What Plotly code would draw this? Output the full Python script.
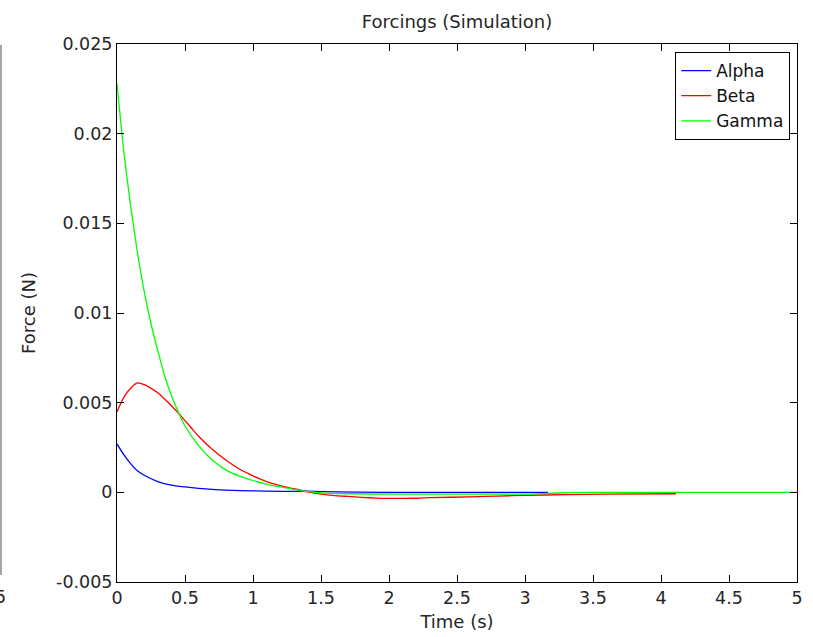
import plotly.graph_objects as go

# ---- data ----
t_alpha = [0, 0.05, 0.1, 0.15, 0.2, 0.3, 0.4, 0.5, 0.6, 0.7, 0.8, 1.0, 1.2, 1.4, 1.5, 2.0, 2.5, 3.17]
alpha = [0.0027, 0.0021, 0.0016, 0.0012, 0.00095, 0.0006, 0.0004, 0.0003, 0.00022, 0.00016,
         0.00012, 0.00008, 0.00005, 0.00006, 0.00004, 0.0, 0.0, 0.0]

t_beta = [0, 0.05, 0.1, 0.15, 0.2, 0.25, 0.3, 0.35, 0.4, 0.45, 0.5, 0.55, 0.6, 0.7, 0.8, 0.9, 1.0,
          1.1, 1.2, 1.3, 1.4, 1.5, 1.6, 1.7, 1.8, 1.9, 2.0, 2.2, 2.3, 2.6, 2.8, 3.0, 3.3, 3.6, 4.11]
beta = [0.0045, 0.0053, 0.0058, 0.0061, 0.0060, 0.0058, 0.00555, 0.0052, 0.00483, 0.00443, 0.0040,
        0.00356, 0.00313, 0.0024, 0.0018, 0.0013, 0.00092, 0.0006, 0.00038, 0.0002, 0.00003,
        -0.0001, -0.00018, -0.00023, -0.00028, -0.00032, -0.00034, -0.00033, -0.0003, -0.00025,
        -0.00021, -0.00017, -0.00013, -0.0001, -0.00008]

t_gamma = [0, 0.05, 0.1, 0.15, 0.2, 0.25, 0.3, 0.35, 0.4, 0.45, 0.5, 0.6, 0.7, 0.8, 0.9, 1.0, 1.1,
           1.2, 1.3, 1.4, 1.5, 1.7, 2.0, 2.5, 3.0, 3.2, 3.5, 4.0, 5.0]
gamma = [0.0228, 0.0190, 0.0160, 0.0134, 0.0112, 0.0094, 0.0079, 0.0065, 0.0054, 0.0045, 0.0037,
         0.0026, 0.0018, 0.00125, 0.0009, 0.00066, 0.00046, 0.0003, 0.00017, 0.00005, -0.00003,
         -0.00008, -0.0001, -0.0001, -0.0001, -0.00005, 0.0, 0.0, 0.0]

series_names = ["Alpha", "Beta", "Gamma"]
series_colors = ["#0000ff", "#ff0000", "#00ff00"]

x_ticks = [0, 0.5, 1, 1.5, 2, 2.5, 3, 3.5, 4, 4.5, 5]
x_tick_labels = ["0", "0.5", "1", "1.5", "2", "2.5", "3", "3.5", "4", "4.5", "5"]
y_ticks = [-0.005, 0, 0.005, 0.01, 0.015, 0.02, 0.025]
y_tick_labels = ["-0.005", "0", "0.005", "0.01", "0.015", "0.02", "0.025"]

FONT = "DejaVu Sans, Liberation Sans, Arial, sans-serif"
TXT = "#262626"

fig = go.Figure()
for tx, ty, name, col in zip([t_alpha, t_beta, t_gamma], [alpha, beta, gamma],
                             series_names, series_colors):
    fig.add_trace(go.Scatter(x=tx, y=ty, name=name, mode="lines",
                             line=dict(color=col, width=1.3, shape="spline", smoothing=0.6)))

axis_common = dict(showline=True, linecolor="black", linewidth=1, mirror="ticks",
                   ticks="inside", ticklen=7, tickcolor="black", showgrid=False,
                   zeroline=False, automargin=False,
                   tickfont=dict(family=FONT, size=17.5, color=TXT))

fig.update_layout(
    width=813, height=637,
    margin=dict(l=117, r=16, t=44, b=55),
    paper_bgcolor="white", plot_bgcolor="white",
    title=dict(text="Forcings (Simulation)", x=(117 + 797) / 2 / 813, xanchor="center",
               y=1 - 22 / 637, yanchor="middle",
               font=dict(family=FONT, size=18, color=TXT)),
    xaxis=dict(range=[0, 5], tickvals=x_ticks, ticktext=x_tick_labels,
               title=dict(text="Time (s)", standoff=8, font=dict(family=FONT, size=18, color=TXT)),
               **axis_common),
    yaxis=dict(range=[-0.005, 0.025], tickvals=y_ticks, ticktext=y_tick_labels,
               title=dict(text="Force (N)", standoff=15, font=dict(family=FONT, size=18, color=TXT)),
               **axis_common),
    legend=dict(x=0.99, xanchor="right", y=0.985, yanchor="top",
                bgcolor="white", bordercolor="black", borderwidth=1,
                font=dict(family=FONT, size=17, color="#111"),
                itemwidth=30, tracegroupgap=0),
    showlegend=True,
)

# fragment of neighbouring subplot at the left edge
fig.add_shape(type="line", xref="paper", yref="paper",
              x0=-116 / 680, x1=-116 / 680, y0=(582 - 45) / 538, y1=(582 - 575) / 538,
              line=dict(color="#888888", width=1.5))
fig.add_annotation(text="5", xref="paper", yref="paper", x=-117 / 680, y=-15 / 538,
                   xanchor="center", yanchor="middle", showarrow=False,
                   font=dict(family=FONT, size=17.5, color=TXT))

fig.write_html("out.html", config={"displayModeBar": False},
               post_script="document.body.style.margin='0';document.body.style.overflow='hidden';")
